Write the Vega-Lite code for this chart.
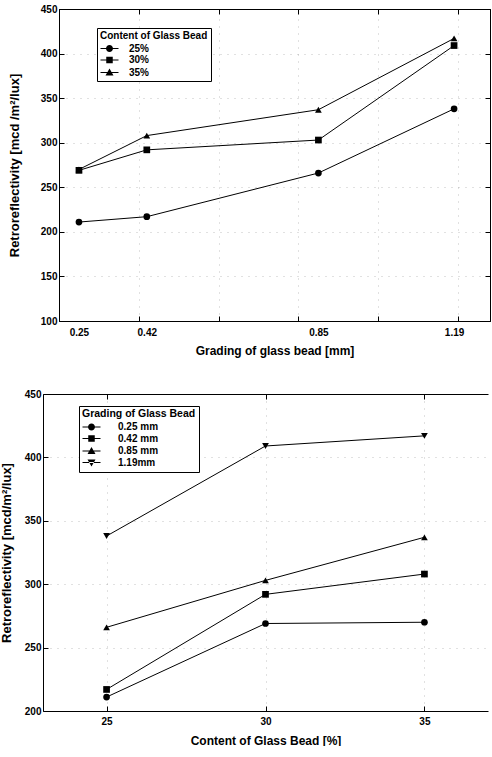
{
  "$schema": "https://vega.github.io/schema/vega-lite/v6.json",
  "padding": {"left": 0, "top": 3, "right": 0, "bottom": 0},
  "autosize": {"type": "pad"},
  "background": "white",
  "config": {
    "font": "Liberation Sans",
    "view": {"stroke": "black", "strokeWidth": 1},
    "axis": {
      "labelFont": "Liberation Sans", "labelFontSize": 10, "labelFontWeight": "bold", "labelColor": "black",
      "titleFont": "Liberation Sans", "titleFontSize": 12, "titleFontWeight": "bold", "titleColor": "black",
      "domainColor": "black", "tickColor": "black", "tickSize": -5, "labelOverlap": false,
      "gridColor": "#888", "gridDash": [1, 6], "gridOpacity": 0.5
    },
    "legend": {
      "titleFont": "Liberation Sans", "titleFontSize": 10, "titleFontWeight": "bold", "titleColor": "black",
      "labelFont": "Liberation Sans", "labelFontSize": 10, "labelFontWeight": "bold", "labelColor": "black",
      "strokeColor": "black", "fillColor": "white", "padding": 3,
      "symbolSize": 100, "symbolFillColor": "black", "symbolStrokeColor": "black", "symbolStrokeWidth": 1,
      "rowPadding": 0.5, "titlePadding": 2
    }
  },
  "datasets": {
    "d": [
      {"grading": 0.25, "content": 25, "content_label": "25%", "grading_label": "0.25 mm", "value": 211},
      {"grading": 0.42, "content": 25, "content_label": "25%", "grading_label": "0.42 mm", "value": 217},
      {"grading": 0.85, "content": 25, "content_label": "25%", "grading_label": "0.85 mm", "value": 266},
      {"grading": 1.19, "content": 25, "content_label": "25%", "grading_label": "1.19mm", "value": 338},
      {"grading": 0.25, "content": 30, "content_label": "30%", "grading_label": "0.25 mm", "value": 269},
      {"grading": 0.42, "content": 30, "content_label": "30%", "grading_label": "0.42 mm", "value": 292},
      {"grading": 0.85, "content": 30, "content_label": "30%", "grading_label": "0.85 mm", "value": 303},
      {"grading": 1.19, "content": 30, "content_label": "30%", "grading_label": "1.19mm", "value": 409},
      {"grading": 0.25, "content": 35, "content_label": "35%", "grading_label": "0.25 mm", "value": 270},
      {"grading": 0.42, "content": 35, "content_label": "35%", "grading_label": "0.42 mm", "value": 308},
      {"grading": 0.85, "content": 35, "content_label": "35%", "grading_label": "0.85 mm", "value": 337},
      {"grading": 1.19, "content": 35, "content_label": "35%", "grading_label": "1.19mm", "value": 417}
    ]
  },
  "spacing": 32,
  "resolve": {"scale": {"shape": "independent"}, "legend": {"shape": "independent"}},
  "vconcat": [
    {
      "width": 431,
      "height": 312,
      "data": {"name": "d"},
      "layer": [
        {
          "mark": {"type": "line", "color": "black", "strokeWidth": 1},
          "encoding": {
            "x": {
              "field": "grading", "type": "quantitative",
              "scale": {"domain": [0.2, 1.28], "nice": false, "zero": false},
              "axis": {
                "orient": "bottom",
                "values": [0.25, 0.4, 0.42, 0.6, 0.8, 0.85, 1, 1.19, 1.2],
                "format": ".2f",
                "labelExpr": "indexof([0.25, 0.42, 0.85, 1.19], datum.value) >= 0 ? datum.label : ''",
                "tickOpacity": {"condition": {"test": "indexof([0.25, 0.42, 0.85, 1.19], datum.value) >= 0", "value": 0}, "value": 1},
                "grid": false,
                "labelPadding": 11,
                "title": "Grading of glass bead [mm]",
                "titlePadding": 8
              }
            },
            "y": {
              "field": "value", "type": "quantitative",
              "scale": {"domain": [100, 450], "nice": false, "zero": false},
              "axis": {
                "orient": "left",
                "values": [100, 150, 200, 250, 300, 350, 400, 450],
                "grid": true,
                "labelPadding": 7,
                "title": "Retroreflectivity [mcd /m²/lux]",
                "titleFontSize": 13,
                "titlePadding": 19
              }
            },
            "detail": {"field": "content_label", "type": "nominal"}
          }
        },
        {
          "mark": {"type": "point", "filled": true, "color": "black", "opacity": 1, "size": 45},
          "encoding": {
            "x": {
              "field": "grading", "type": "quantitative",
              "axis": {"orient": "top", "values": [0.2, 0.4, 0.6, 0.8, 1, 1.2], "labels": false, "title": null, "grid": true}
            },
            "y": {
              "field": "value", "type": "quantitative",
              "axis": {"orient": "right", "values": [100, 150, 200, 250, 300, 350, 400, 450], "labels": false, "title": null, "grid": false}
            },
            "shape": {
              "field": "content_label", "type": "nominal",
              "scale": {"domain": ["25%", "30%", "35%"], "range": ["circle", "square", "triangle-up"]},
              "legend": null
            }
          }
        },
        {
          "transform": [{"filter": "false"}],
          "mark": {"type": "point", "filled": true, "fill": "black", "stroke": "black", "strokeWidth": 1, "opacity": 1, "size": 100},
          "encoding": {
            "shape": {
              "field": "content_label", "type": "nominal",
              "scale": {
                "domain": ["25%", "30%", "35%"],
                "range": [
                  "M-1.8,-0.1H1.8V0.1H-1.8ZM0.7,0A0.7,0.7,0,1,1,-0.7,0A0.7,0.7,0,1,1,0.7,0Z",
                  "M-1.8,-0.1H1.8V0.1H-1.8ZM-0.65,-0.65H0.65V0.65H-0.65Z",
                  "M-1.8,-0.1H1.8V0.1H-1.8ZM0,-0.8L0.8,0.6H-0.8Z"
                ]
              },
              "legend": {
                "orient": "none", "legendX": 38, "legendY": 19,
                "title": "Content of Glass Bead",
                "symbolOffset": 4, "labelOffset": 14
              }
            }
          }
        }
      ],
      "resolve": {"scale": {"shape": "independent"}, "axis": {"x": "independent", "y": "independent"}}
    },
    {
      "width": 445,
      "height": 317,
      "view": {"stroke": null},
      "data": {"name": "d"},
      "layer": [
        {
          "mark": {"type": "line", "color": "black", "strokeWidth": 1},
          "encoding": {
            "x": {
              "field": "content", "type": "quantitative",
              "scale": {"domain": [23, 37], "range": [-16, 429], "nice": false, "zero": false},
              "axis": {
                "orient": "bottom", "values": [25, 30, 35], "grid": true,
                "labelPadding": 10,
                "title": "Content of Glass Bead [%]",
                "titlePadding": 9
              }
            },
            "y": {
              "field": "value", "type": "quantitative",
              "scale": {"domain": [200, 450], "nice": false, "zero": false},
              "axis": {
                "orient": "left",
                "offset": 16,
                "values": [200, 250, 300, 350, 400, 450],
                "grid": true,
                "labelPadding": 7,
                "title": "Retroreflectivity [mcd/m²/lux]",
                "titleFontSize": 13,
                "titlePadding": 11
              }
            },
            "detail": {"field": "grading_label", "type": "nominal"}
          }
        },
        {
          "mark": {"type": "point", "filled": true, "color": "black", "opacity": 1, "size": 45},
          "encoding": {
            "x": {
              "field": "content", "type": "quantitative",
              "axis": {"orient": "top", "values": [25, 30, 35], "labels": false, "title": null, "grid": false}
            },
            "y": {
              "field": "value", "type": "quantitative",
              "axis": {"orient": "right", "values": [200, 250, 300, 350, 400, 450], "labels": false, "title": null, "grid": false}
            },
            "shape": {
              "field": "grading_label", "type": "nominal",
              "scale": {"domain": ["0.25 mm", "0.42 mm", "0.85 mm", "1.19mm"], "range": ["circle", "square", "triangle-up", "triangle-down"]},
              "legend": null
            }
          }
        },
        {
          "transform": [{"filter": "false"}],
          "mark": {"type": "point", "filled": true, "fill": "black", "stroke": "black", "strokeWidth": 1, "opacity": 1, "size": 100},
          "encoding": {
            "shape": {
              "field": "grading_label", "type": "nominal",
              "scale": {
                "domain": ["0.25 mm", "0.42 mm", "0.85 mm", "1.19mm"],
                "range": [
                  "M-1.8,-0.1H1.8V0.1H-1.8ZM0.7,0A0.7,0.7,0,1,1,-0.7,0A0.7,0.7,0,1,1,0.7,0Z",
                  "M-1.8,-0.1H1.8V0.1H-1.8ZM-0.65,-0.65H0.65V0.65H-0.65Z",
                  "M-1.8,-0.1H1.8V0.1H-1.8ZM0,-0.8L0.8,0.6H-0.8Z",
                  "M-1.8,-0.1H1.8V0.1H-1.8ZM0,0.8L0.8,-0.6H-0.8Z"
                ]
              },
              "legend": {
                "orient": "none", "legendX": 20, "legendY": 12,
                "title": "Grading of Glass Bead",
                "titleFontSize": 10.5,
                "symbolOffset": 4, "labelOffset": 21
              }
            }
          }
        }
      ],
      "resolve": {"scale": {"shape": "independent"}, "axis": {"x": "independent", "y": "independent"}}
    }
  ]
}
